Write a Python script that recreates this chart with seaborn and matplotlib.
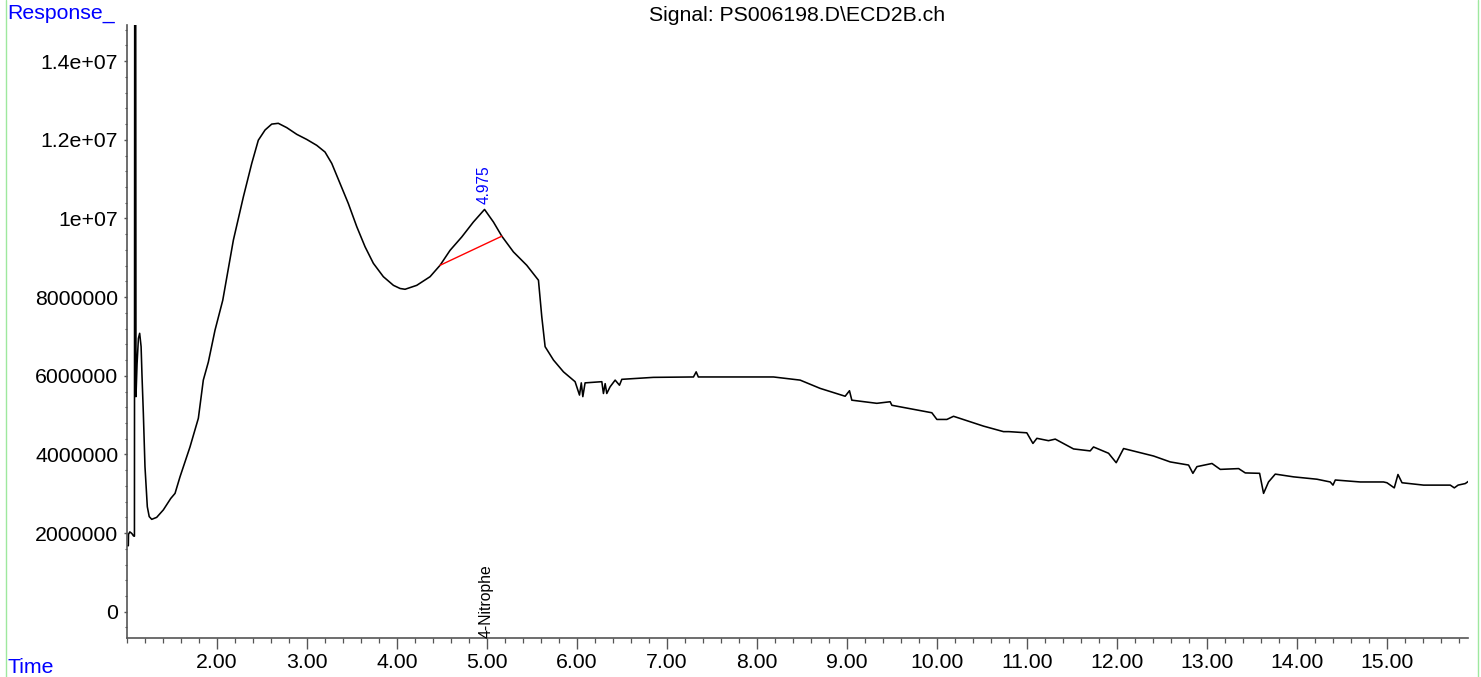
import matplotlib
matplotlib.use("Agg")
import matplotlib.pyplot as plt
from matplotlib.lines import Line2D
from matplotlib.ticker import FixedLocator, FixedFormatter, MultipleLocator
import matplotlib.transforms as mtransforms
import pandas as pd
import seaborn as sns

# chromatogram trace (time in min, response in 1e6 counts)
time_min = [
    1.000, 1.018, 1.020, 1.035, 1.057, 1.075, 1.086, 1.089, 1.100, 1.103,
    1.115, 1.130, 1.144, 1.160, 1.170, 1.185, 1.203, 1.229, 1.250, 1.278,
    1.333, 1.407, 1.489, 1.537, 1.592, 1.703, 1.796, 1.851, 1.907, 1.981,
    2.067, 2.185, 2.296, 2.389, 2.462, 2.537, 2.611, 2.684, 2.778, 2.889,
    3.000, 3.111, 3.203, 3.278, 3.370, 3.462, 3.556, 3.648, 3.740, 3.851,
    3.963, 4.037, 4.092, 4.222, 4.370, 4.481, 4.592, 4.722, 4.851, 4.975,
    5.074, 5.167, 5.296, 5.444, 5.574, 5.611, 5.648, 5.741, 5.852, 5.981,
    6.030, 6.050, 6.067, 6.092, 6.278, 6.296, 6.315, 6.333, 6.370, 6.426,
    6.474, 6.500, 6.851, 7.296, 7.326, 7.350, 7.963, 8.185, 8.481, 8.703,
    8.981, 9.029, 9.055, 9.333, 9.481, 9.500, 9.778, 9.944, 10.000, 10.111,
    10.185, 10.518, 10.740, 10.800, 10.999, 11.067, 11.111, 11.240, 11.315, 11.518,
    11.703, 11.740, 11.907, 11.992, 12.074, 12.407, 12.592, 12.796, 12.844, 12.889,
    13.056, 13.148, 13.352, 13.426, 13.585, 13.629, 13.684, 13.759, 13.962, 14.222,
    14.370, 14.400, 14.426, 14.703, 14.962, 15.000, 15.081, 15.122, 15.167, 15.407,
    15.703, 15.748, 15.790, 15.870, 15.907,
]
response_m = [
    1.68, 1.68, 1.97, 2.03, 1.99, 1.93, 1.92, 16.0, 16.0, 5.47,
    6.30, 6.95, 7.08, 6.74, 6.00, 5.04, 3.69, 2.67, 2.42, 2.35,
    2.40, 2.59, 2.88, 3.01, 3.43, 4.19, 4.92, 5.89, 6.35, 7.16,
    7.92, 9.45, 10.55, 11.40, 11.99, 12.25, 12.40, 12.42, 12.31, 12.14,
    12.01, 11.86, 11.69, 11.40, 10.89, 10.38, 9.79, 9.28, 8.86, 8.52,
    8.30, 8.22, 8.20, 8.30, 8.52, 8.81, 9.19, 9.53, 9.91, 10.23,
    9.91, 9.55, 9.15, 8.81, 8.43, 7.50, 6.74, 6.40, 6.10, 5.85,
    5.51, 5.82, 5.47, 5.82, 5.85, 5.55, 5.80, 5.55, 5.72, 5.89,
    5.76, 5.91, 5.96, 5.97, 6.10, 5.97, 5.97, 5.97, 5.89, 5.68,
    5.48, 5.62, 5.38, 5.30, 5.34, 5.25, 5.13, 5.06, 4.89, 4.89,
    4.97, 4.72, 4.58, 4.58, 4.55, 4.28, 4.41, 4.35, 4.39, 4.14,
    4.09, 4.19, 4.03, 3.79, 4.15, 3.96, 3.81, 3.73, 3.52, 3.69,
    3.77, 3.62, 3.64, 3.53, 3.52, 3.01, 3.30, 3.50, 3.43, 3.37,
    3.30, 3.22, 3.35, 3.30, 3.30, 3.28, 3.15, 3.49, 3.28, 3.22,
    3.22, 3.15, 3.22, 3.26, 3.32,
]

# integration baseline under the 4.975 peak
baseline_t = [4.481, 5.167]
baseline_m = [8.81, 9.55]

peak_time = 4.975
peak_label = "4.975"
peak_top_m = 10.38
compound_name = "4-Nitrophe"

x_ticks = [2, 3, 4, 5, 6, 7, 8, 9, 10, 11, 12, 13, 14, 15]
x_labels = ["2.00", "3.00", "4.00", "5.00", "6.00", "7.00", "8.00", "9.00",
            "10.00", "11.00", "12.00", "13.00", "14.00", "15.00"]
y_ticks = [0, 2e6, 4e6, 6e6, 8e6, 1e7, 1.2e7, 1.4e7]
y_labels = ["0", "2000000", "4000000", "6000000", "8000000",
            "1e+07", "1.2e+07", "1.4e+07"]

sns.set_style("ticks")
plt.rcParams['font.family'] = ['Liberation Sans', 'DejaVu Sans']

W, H = 1481, 677
fig = plt.figure(figsize=(W / 100, H / 100), dpi=100)
ax = fig.add_axes([126.7 / W, 1 - 637.7 / H, (1468 - 126.7) / W, (637.7 - 25) / H])

trace = pd.DataFrame({"t": time_min, "r": [v * 1e6 for v in response_m]})
base = pd.DataFrame({"t": baseline_t, "r": [v * 1e6 for v in baseline_m]})

sns.lineplot(data=trace, x="t", y="r", ax=ax, color="black", lw=1.15,
             estimator=None, sort=False)
sns.lineplot(data=base, x="t", y="r", ax=ax, color="red", lw=1.0,
             estimator=None, sort=False)

ax.set_xlim(1.0, 15.9)
ax.set_ylim(-0.66e6, 14.92e6)
ax.set_xlabel("")
ax.set_ylabel("")

ax.xaxis.set_major_locator(FixedLocator(x_ticks))
ax.xaxis.set_major_formatter(FixedFormatter(x_labels))
ax.xaxis.set_minor_locator(MultipleLocator(0.2))
ax.yaxis.set_major_locator(FixedLocator(y_ticks))
ax.yaxis.set_major_formatter(FixedFormatter(y_labels))
ax.yaxis.set_minor_locator(MultipleLocator(4e5))

for side in ("top", "right"):
    ax.spines[side].set_visible(False)
for side in ("left", "bottom"):
    ax.spines[side].set_color("#555555")
    ax.spines[side].set_linewidth(1.2)

ax.tick_params(axis="x", which="major", length=8, width=1.0, color="#555555",
               labelsize=15.3, labelcolor="black", pad=3)
ax.tick_params(axis="x", which="minor", length=3.6, width=0.9, color="#555555")
ax.tick_params(axis="y", which="major", length=2.5, width=1.0, color="#555555",
               labelsize=15.3, labelcolor="black", pad=3.5)
ax.tick_params(axis="y", which="minor", length=1.2, width=0.8, color="#555555")

# peak annotations
ax.text(peak_time, peak_top_m * 1e6, peak_label, rotation=90, ha="center",
        va="bottom", color="blue", fontsize=11.2)
trans = mtransforms.blended_transform_factory(ax.transData, ax.transAxes)
ax.text(peak_time + 0.02, 0.0, compound_name, rotation=90, ha="center",
        va="bottom", color="black", fontsize=11.3, transform=trans)

# header / footer labels
fig.text(7 / W, 1 - 18.3 / H, "Response_", color="blue", fontsize=15.3,
         ha="left", va="baseline")
fig.text(7 / W, 1 - 672.7 / H, "Time", color="blue", fontsize=15.3,
         ha="left", va="baseline")
fig.text(796.7 / W, 1 - 20.7 / H, "Signal: PS006198.D\\ECD2B.ch", color="black",
         fontsize=15.3, ha="center", va="baseline")

# thin green frame lines at the page edges
fig.add_artist(Line2D([5.5 / W, 5.5 / W], [0, 1], color="#9ee89e", lw=1.0))
fig.add_artist(Line2D([1478 / W, 1478 / W], [0, 1], color="#9ee89e", lw=1.0))

fig.savefig("out.png", dpi=100)
